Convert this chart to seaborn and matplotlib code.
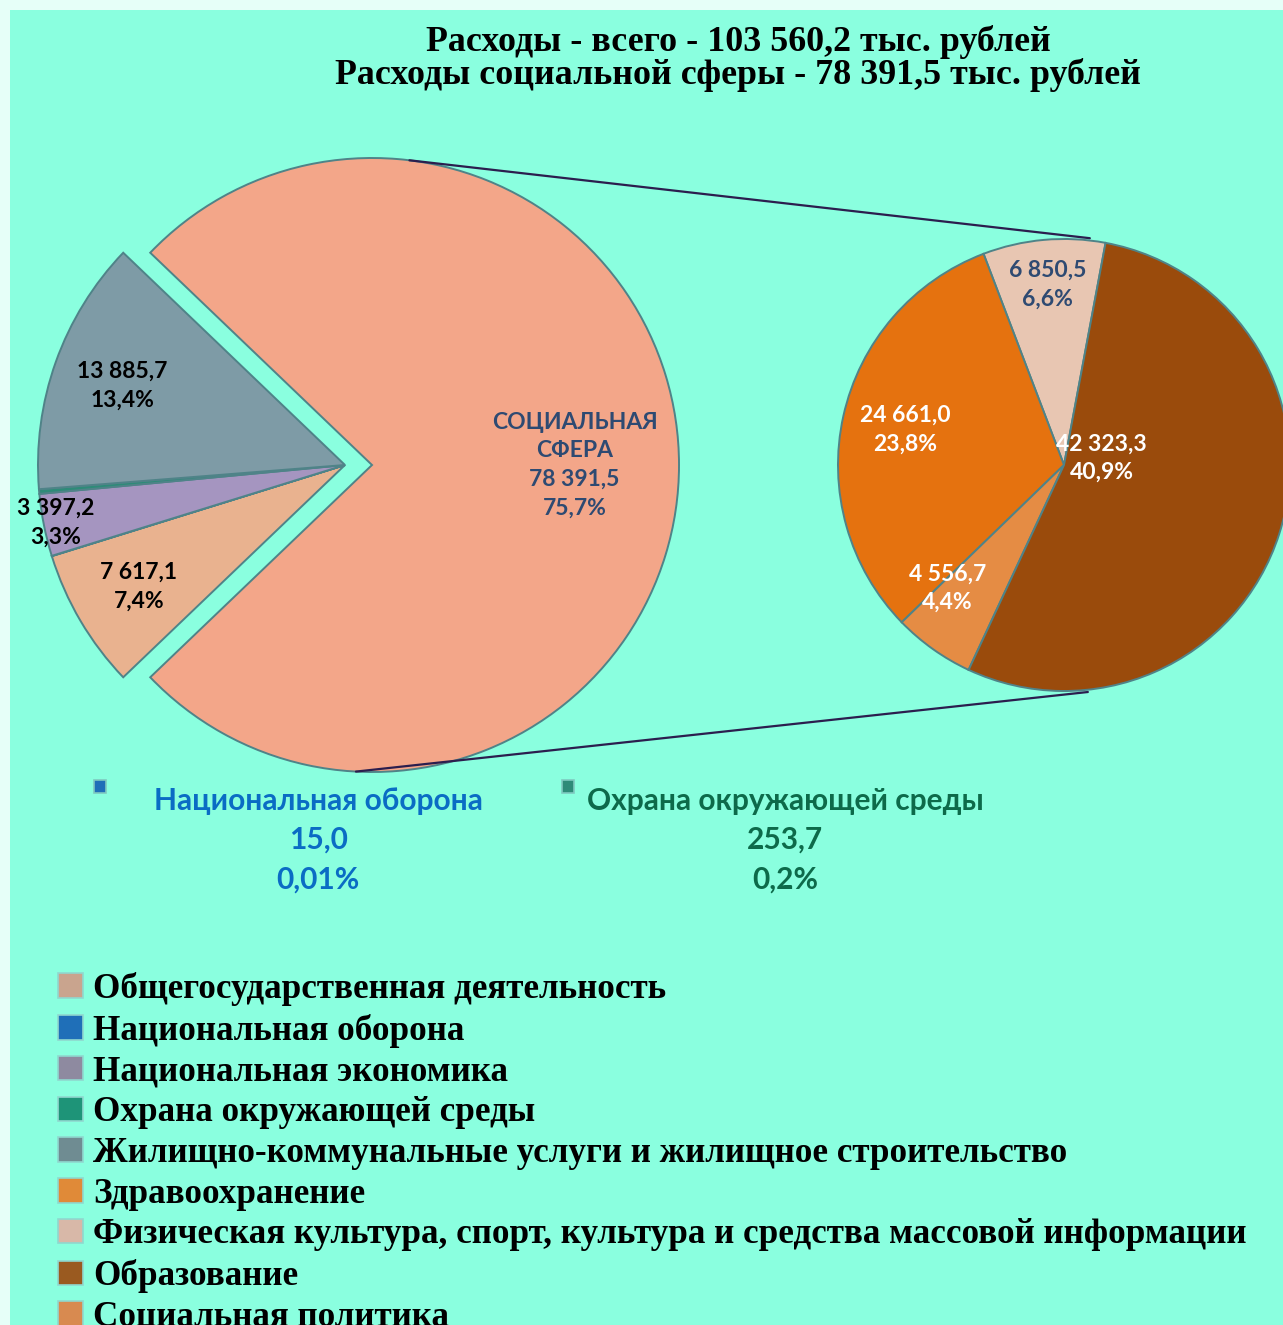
import numpy as np
import seaborn as sns
import matplotlib.pyplot as plt
from matplotlib.patches import Patch, Rectangle, ConnectionPatch

# --- data -------------------------------------------------------------
total_label = "103 560,2"
social_label = "78 391,5"

# left pie (whole budget), legend order
main_categories = [
    "Общегосударственная деятельность",
    "Национальная оборона",
    "Национальная экономика",
    "Охрана окружающей среды",
    "Жилищно-коммунальные услуги и жилищное строительство",
    "Социальная сфера",
]
main_values = [7617.1, 15.0, 3397.2, 253.7, 13885.7, 78391.5]
main_colors = ["#E9B28F", "#1F6FB8", "#A595C0", "#2E8B78", "#7E9BA6", "#F3A689"]

# right pie (social sphere), legend order
social_categories = [
    "Здравоохранение",
    "Физическая культура, спорт, культура и средства массовой информации",
    "Образование",
    "Социальная политика",
]
social_values = [24661.0, 6850.5, 42323.3, 4556.7]
social_colors = ["#E5720F", "#E8C6B2", "#9A4B0C", "#E58C44"]
social_order = [1, 0, 3, 2]  # drawing order, counter-clockwise from the top

legend_colors = ["#C9A48E", "#1F6FB8", "#8E8AA0", "#1E9478", "#6F8C92",
                 "#E08A38", "#D8B8A8", "#9A5A20", "#D88A50"]

BG = "#8AFFDF"
W, H = 1283, 1325


def fmt_val(v):
    return f"{v:,.1f}".replace(",", " ").replace(".", ",")


def fmt_pct(v, tot):
    p = v / tot * 100
    s = f"{p:.2f}" if p < 0.1 else f"{p:.1f}"
    return s.replace(".", ",") + "%"


total = sum(main_values)

sns.set_theme(style="white")
plt.rcParams["font.family"] = ["Lato", "DejaVu Sans"]

fig = plt.figure(figsize=(W / 100, H / 100), dpi=100)
fig.patch.set_facecolor("#E6FFF8")
fig.patches.append(Rectangle((10 / W, 0), 1, 1 - 10 / H, transform=fig.transFigure,
                             facecolor=BG, edgecolor="none", zorder=-10))


def pie_axes(cx, cy, r, lim=1.2):
    return fig.add_axes([(cx - lim * r) / W, (H - cy - lim * r) / H,
                         2 * lim * r / W, 2 * lim * r / H])


# --- left pie ---------------------------------------------------------
axL = pie_axes(345, 465, 307)
share_small = sum(main_values[:-1]) / total * 360
explode_L = [0, 0, 0, 0, 0, 0.088]
wL, _ = axL.pie(main_values, colors=main_colors, startangle=180 + share_small / 2,
                counterclock=False, explode=explode_L, radius=1,
                wedgeprops=dict(edgecolor="#4F8388", linewidth=1.4))
axL.set_xlim(-1.2, 1.2)
axL.set_ylim(-1.2, 1.2)
axL.axis("off")

left_dist = [0.78, None, 0.96, None, 0.77, 0.66]
for i, w in enumerate(wL):
    if left_dist[i] is None:
        continue
    ang = np.deg2rad((w.theta1 + w.theta2) / 2)
    x = w.center[0] + left_dist[i] * np.cos(ang)
    y = w.center[1] + left_dist[i] * np.sin(ang)
    txt = f"{fmt_val(main_values[i])}\n{fmt_pct(main_values[i], total)}"
    color = "black"
    if i == 5:
        txt = "СОЦИАЛЬНАЯ\nСФЕРА\n" + txt
        color = "#2E4A72"
    axL.text(x, y, txt, ha="center", va="center", fontsize=16.5, fontweight="bold",
             color=color, linespacing=1.45)

# --- right pie --------------------------------------------------------
axR = pie_axes(1064, 465, 226)
vals_R = [social_values[k] for k in social_order]
cols_R = [social_colors[k] for k in social_order]
wR, _ = axR.pie(vals_R, colors=cols_R, startangle=79.4, counterclock=True, radius=1,
                wedgeprops=dict(edgecolor="#4F8388", linewidth=1.4))
axR.set_xlim(-1.2, 1.2)
axR.set_ylim(-1.2, 1.2)
axR.axis("off")

right_dist = {1: 0.80, 0: 0.72, 3: 0.75, 2: 0.17}
right_shift = {1: 0, 0: 0, 3: -8, 2: 28}
for w, k in zip(wR, social_order):
    ang = np.deg2rad((w.theta1 + w.theta2) / 2 + right_shift[k])
    x = right_dist[k] * np.cos(ang)
    y = right_dist[k] * np.sin(ang)
    txt = f"{fmt_val(social_values[k])}\n{fmt_pct(social_values[k], total)}"
    axR.text(x, y, txt, ha="center", va="center", fontsize=16.5, fontweight="bold",
             color="#2E4A72" if k == 1 else "white", linespacing=1.45)

# connector lines between the pies
for aL, aR in [(83, 83.5), (267, -84)]:
    xa = explode_L[-1] + np.cos(np.deg2rad(aL))
    ya = np.sin(np.deg2rad(aL))
    xb = 1.01 * np.cos(np.deg2rad(aR))
    yb = 1.01 * np.sin(np.deg2rad(aR))
    con = ConnectionPatch(xyA=(xa, ya), coordsA=axL.transData,
                          xyB=(xb, yb), coordsB=axR.transData,
                          color="#2B1E4E", linewidth=1.6)
    fig.add_artist(con)

# --- outside labels for the tiny wedges -------------------------------
small = [(1, 318, 100, "#0A6CC4"), (3, 785, 568, "#0D6A4A")]
for i, tx, mx, col in small:
    fig.patches.append(Rectangle(((mx - 6) / W, (H - 793) / H), 12 / W, 13 / H,
                                 transform=fig.transFigure, facecolor=main_colors[i],
                                 edgecolor="#7FC9C0", linewidth=1.2))
    fig.text(tx / W, 1 - 801 / H, main_categories[i], ha="center", va="center",
             fontsize=21.5, fontweight="bold", color=col)
    fig.text(tx / W, 1 - 840 / H, fmt_val(main_values[i]), ha="center", va="center",
             fontsize=21.5, fontweight="bold", color=col)
    fig.text(tx / W, 1 - 880 / H, fmt_pct(main_values[i], total), ha="center",
             va="center", fontsize=21.5, fontweight="bold", color=col)

# --- title ------------------------------------------------------------
fig.text(738 / W, 1 - 42 / H, f"Расходы - всего - {total_label} тыс. рублей",
         ha="center", va="center", fontsize=25.8, fontweight="bold", color="black",
         family=["Liberation Serif", "DejaVu Serif"])
fig.text(738 / W, 1 - 75 / H, f"Расходы социальной сферы - {social_label} тыс. рублей",
         ha="center", va="center", fontsize=25.8, fontweight="bold", color="black",
         family=["Liberation Serif", "DejaVu Serif"])

# --- legend -----------------------------------------------------------
legend_labels = main_categories[:5] + social_categories
handles = [Patch(facecolor=c, edgecolor="#8FD8CF", linewidth=1.2) for c in legend_colors]
leg = fig.legend(handles, legend_labels, loc="upper left",
                 bbox_to_anchor=(58 / W, 1 - 972 / H), frameon=False,
                 prop=dict(family="Liberation Serif", weight="bold", size=25.3),
                 handlelength=0.7, handleheight=0.7, handletextpad=0.3,
                 labelspacing=0.22, borderaxespad=0, borderpad=0)
for t in leg.get_texts():
    t.set_color("black")

fig.savefig("out.png", dpi=100, facecolor=fig.get_facecolor())
